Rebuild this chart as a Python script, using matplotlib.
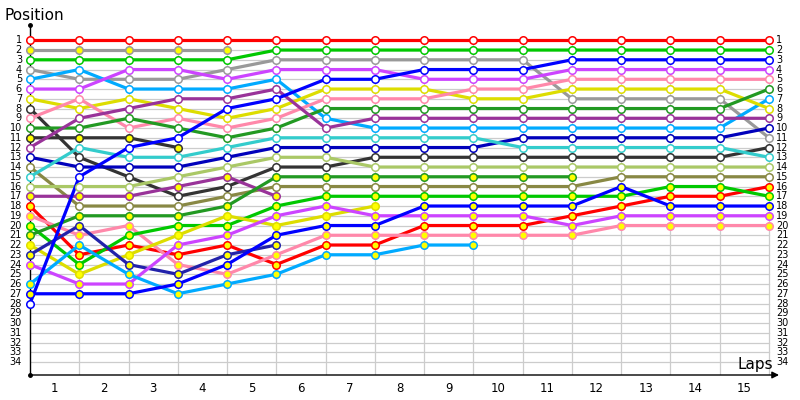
import matplotlib
matplotlib.use("Agg")
import matplotlib.pyplot as plt

# ---- data: position of each car at start (0) and after each lap ----
lap_labels = [str(i) for i in range(1, 16)]
position_labels = [str(i) for i in range(1, 35)]

red_a = [1, 1, 1, 1, 1, 1, 1, 1, 1, 1, 1, 1, 1, 1, 1, 1]
gray_a = [2, 2, 2, 2, 2]
green_a = [3, 3, 3, 3, 3, 2, 2, 2, 2, 2, 2, 2, 2, 2, 2, 2]
gray_b = [4, 5, 5, 5, 4, 3, 3, 3, 3, 3, 3, 7, 7, 7, 7, 11]
sky_a = [5, 4, 6, 6, 6, 5, 9, 10, 10, 10, 10, 10, 10, 10, 10, 7]
violet_a = [6, 6, 4, 4, 5, 4, 4, 4, 5, 5, 5, 4, 4, 4, 4, 4]
yellow_a = [7, 8, 7, 8, 9, 8, 6, 6, 6, 7, 7, 6, 6, 6, 6, 8]
black_a = [8, 13, 15, 17, 16, 14, 14, 13, 13, 13, 13, 13, 13, 13, 13, 12]
pink_a = [9, 7, 10, 9, 10, 9, 7, 7, 7, 6, 6, 5, 5, 5, 5, 5]
dgreen_a = [10, 10, 9, 10, 11, 10, 8, 8, 8, 8, 8, 8, 8, 8, 8, 6]
black_b = [11, 11, 11, 12]
purple_a = [12, 9, 8, 7, 7, 6, 10, 9, 9, 9, 9, 9, 9, 9, 9, 9]
navy_a = [13, 14, 14, 14, 13, 12, 12, 12, 12, 12, 11, 11, 11, 11, 11, 10]
olive_a = [14, 18, 18, 18, 17, 16, 16, 16, 16, 16, 16, 16, 15, 15, 15, 15]
cyan_a = [15, 12, 13, 13, 12, 11, 11, 11, 11, 11, 12, 12, 12, 12, 12, 13]
lgreen_a = [16, 16, 16, 15, 14, 13, 13, 14, 14, 14, 14, 14, 14, 14, 14, 14]
purple_b = [17, 17, 17, 16, 15, 17]
red_b = [18, 23, 22, 23, 22, 24, 22, 22, 20, 20, 20, 19, 18, 17, 17, 16]
pink_b = [19, 21, 20, 24, 25, 23, 21, 21, 21, 21, 21, 21, 20, 20, 20, 20]
green_b = [20, 24, 21, 20, 20, 18, 17, 17, 17, 17, 17, 17, 17, 16, 16, 17]
dgreen_b = [21, 19, 19, 19, 18, 15, 15, 15, 15, 15, 15, 15]
yellow_b = [22, 25, 23, 21, 19, 20, 19, 18]
navy_b = [23, 20, 24, 25, 23, 22]
violet_b = [24, 26, 26, 22, 21, 19, 18, 19, 19, 19, 19, 20, 19, 19, 19, 19]
sky_b = [26, 22, 25, 27, 26, 25, 23, 23, 22, 22]
blue_b = [27, 27, 27, 26, 24, 21, 20, 20, 18, 18, 18, 18, 16, 18, 18, 18]
blue_a = [28, 15, 12, 11, 8, 7, 5, 5, 4, 4, 4, 3, 3, 3, 3, 3]

# (series, line colour, marker fill)
W, Y = "white", "#ffff00"
cars = [
    (red_a, "#ff0000", W), (gray_a, "#999999", Y), (green_a, "#00c800", W),
    (gray_b, "#999999", W), (sky_a, "#00aaff", W), (violet_a, "#cc44ff", W),
    (yellow_a, "#dddd00", W), (black_a, "#333333", W), (pink_a, "#ff88aa", W),
    (dgreen_a, "#229922", W), (black_b, "#333333", Y), (purple_a, "#993399", W),
    (navy_a, "#0000bb", W), (olive_a, "#888844", W), (cyan_a, "#33cccc", W),
    (lgreen_a, "#aac866", W), (purple_b, "#993399", Y), (red_b, "#ff0000", Y),
    (pink_b, "#ff88aa", Y), (green_b, "#00c800", Y), (dgreen_b, "#229922", Y),
    (yellow_b, "#dddd00", Y), (navy_b, "#2222aa", Y), (violet_b, "#cc44ff", Y),
    (sky_b, "#00aaff", Y), (blue_b, "#0000ff", Y), (blue_a, "#0000ff", W),
]

fig = plt.figure(figsize=(8, 4), dpi=100)
# pixel geometry: x col0=30px, col15=769px ; row1=40.3px, row34=362px
xpx = (769 - 30) / 15.0
ypx = (362 - 40.3) / 33.0
x_right = (780 - 30) / xpx
y_bottom = 34 + (375 - 362) / ypx
y_top = 1 - (40.3 - 25) / ypx
ax = fig.add_axes([30 / 800, 25 / 400, 750 / 800, 350 / 400])
ax.set_xlim(0, x_right)
ax.set_ylim(y_bottom, y_top)
ax.axis("off")

ncols = 16
# grid
for p in range(1, len(position_labels) + 1):
    ax.plot([0, ncols - 1], [p, p], color="#cccccc", lw=0.9, zorder=1)
for c in range(1, ncols):
    ax.plot([c, c], [1, y_bottom], color="#cccccc", lw=0.9, zorder=1)

# axes with arrows
ax.plot([0, 0], [y_bottom, y_top], color="black", lw=1.0, zorder=2, clip_on=False)
ax.plot([0], [y_top], marker="o", ms=2.5, color="black", clip_on=False, zorder=2)
ax.plot([0], [y_bottom], marker="o", ms=2.5, color="black", clip_on=False, zorder=2)
ax.annotate("", xy=(x_right - 0.02, y_bottom), xytext=(0, y_bottom),
            arrowprops=dict(arrowstyle="-|>", color="black", lw=1.0,
                            mutation_scale=10, shrinkA=0, shrinkB=0),
            annotation_clip=False)

# car lines
for i, (series, col, fill) in enumerate(cars):
    xs = list(range(len(series)))
    ax.plot(xs, series, color=col, lw=2.3, zorder=3 + i * 0.01,
            solid_capstyle="round", clip_on=False)
    ax.plot(xs, series, linestyle="none", marker="o", ms=5.4,
            markerfacecolor=fill, markeredgecolor=col, markeredgewidth=1.1,
            zorder=4 + i * 0.01, clip_on=False)

# labels
for i, lab in enumerate(position_labels):
    p = i + 1
    ax.text(-8 / xpx, p, lab, ha="right", va="center", fontsize=7, clip_on=False)
    ax.text((776 - 30) / xpx, p, lab, ha="left", va="center", fontsize=7, clip_on=False)
for i, lab in enumerate(lap_labels):
    ax.text(i + 0.5, 34 + (389 - 362) / ypx, lab, ha="center", va="center",
            fontsize=8.5, clip_on=False)

fig.text(4 / 800, 1 - 15 / 400, "Position", ha="left", va="center", fontsize=11)
fig.text(773 / 800, 1 - 365 / 400, "Laps", ha="right", va="center", fontsize=11)

fig.savefig("out.png", dpi=100)
